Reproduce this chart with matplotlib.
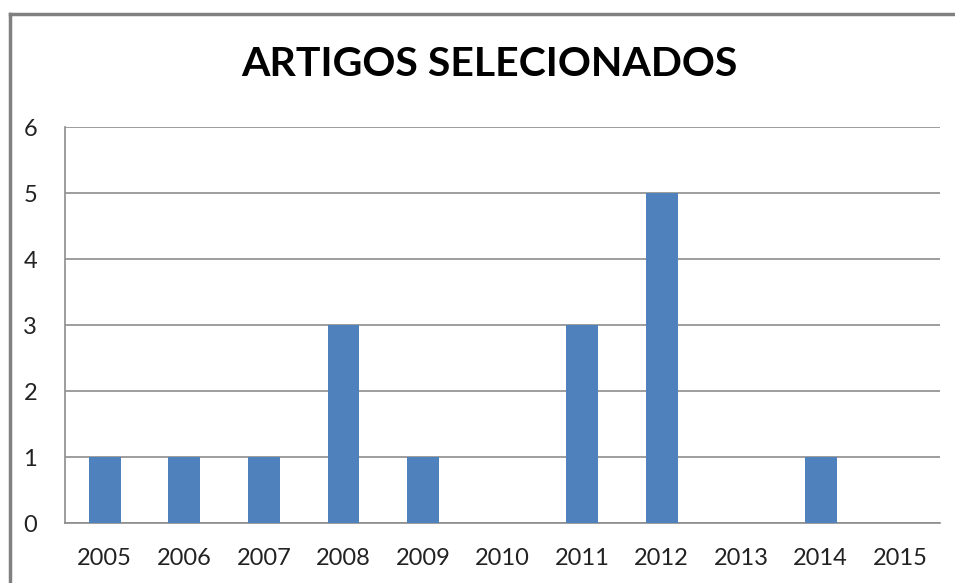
import matplotlib.pyplot as plt
from matplotlib.lines import Line2D

anos = ['2005', '2006', '2007', '2008', '2009', '2010', '2011', '2012', '2013', '2014', '2015']
artigos = [1, 1, 1, 3, 1, 0, 3, 5, 0, 1, 0]

plt.rcParams['font.family'] = ['Lato', 'DejaVu Sans']

fig = plt.figure(figsize=(9.55, 5.83), dpi=100)
ax = fig.add_axes([65 / 955, 1 - 523 / 583, 875 / 955, 396 / 583])

x = range(len(anos))
ax.bar(x, artigos, width=0.4, color='#4F81BD', zorder=3)

ax.set_xlim(-0.5, len(anos) - 0.5)
ax.set_ylim(0, 6)
ax.set_yticks(range(7))
ax.set_xticks(list(x))
ax.set_xticklabels(anos)
ax.tick_params(axis='both', length=0, labelsize=17, colors='#222222')
ax.tick_params(axis='y', pad=20)
ax.tick_params(axis='x', pad=18)

ax.grid(axis='y', color='#8c8c8c', linewidth=1.2, zorder=0)
for s in ['top', 'right']:
    ax.spines[s].set_visible(False)
ax.spines['left'].set_color('#8c8c8c')
ax.spines['bottom'].set_color('#8c8c8c')
ax.spines['left'].set_linewidth(1.2)
ax.spines['bottom'].set_linewidth(1.2)

fig.text(489 / 955, 1 - 65 / 583, 'ARTIGOS SELECIONADOS', ha='center', va='center',
         fontsize=29.5, fontweight='bold', color='black')

# moldura do grafico (so aparecem topo e esquerda)
fig.add_artist(Line2D([10 / 955, 1], [1 - 14 / 583] * 2, color='#808080', linewidth=2.5, transform=fig.transFigure))
fig.add_artist(Line2D([10 / 955] * 2, [0, 1 - 14 / 583], color='#808080', linewidth=2.5, transform=fig.transFigure))

fig.savefig('out.png', dpi=100)
